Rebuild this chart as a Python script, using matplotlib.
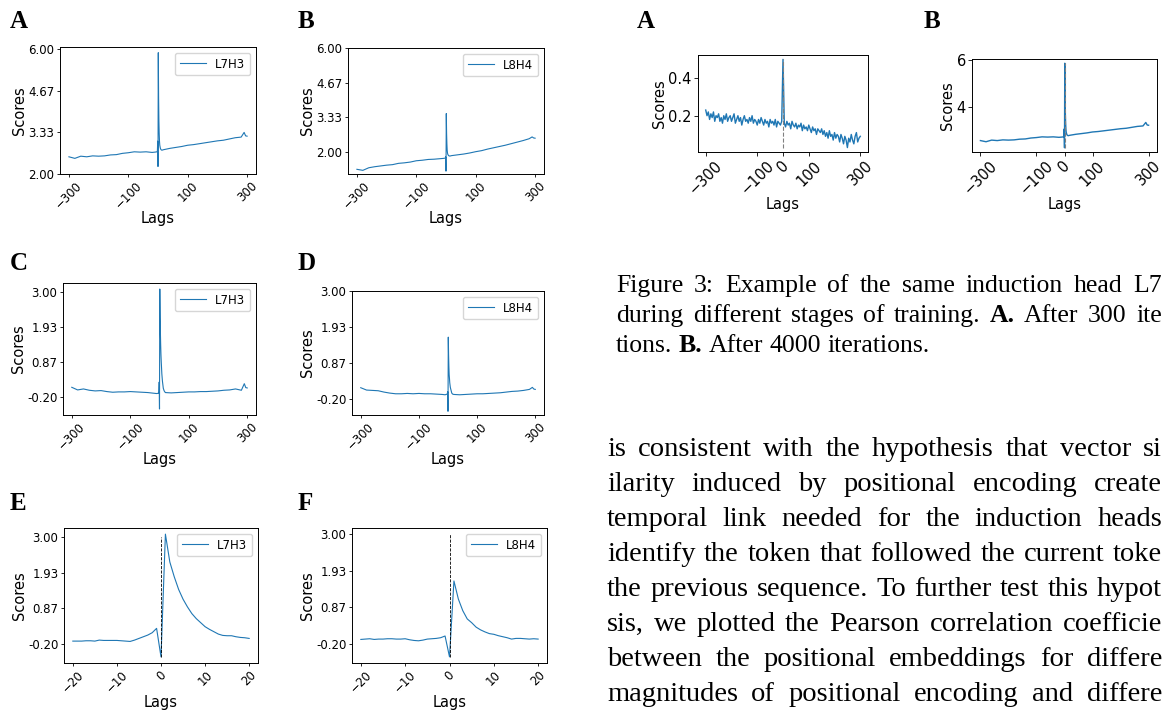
import numpy as np
import matplotlib
matplotlib.use("Agg")
import matplotlib.pyplot as plt
from matplotlib.transforms import IdentityTransform

# ---------------- data ----------------
lags_long = [-300, -280, -260, -240, -220, -200, -180, -160, -140, -120, -100, -80, -60, -40, -20, -10,
             -3, -2, -1, 0, 1, 2, 3, 4, 5, 6, 8, 10, 13, 16, 20,
             40, 60, 80, 100, 120, 140, 160, 180, 200, 220, 240, 260, 280, 290, 295, 300]

l7h3_raw = [2.55, 2.50, 2.57, 2.55, 2.58, 2.57, 2.58, 2.61, 2.62, 2.66, 2.68, 2.71, 2.70, 2.71, 2.69, 2.70,
            2.71, 2.74, 3.05, 2.24, 5.88, 4.45, 3.70, 3.30, 3.05, 2.92, 2.82, 2.78, 2.76, 2.77, 2.78,
            2.82, 2.85, 2.88, 2.92, 2.94, 2.97, 3.00, 3.03, 3.06, 3.08, 3.12, 3.16, 3.18, 3.33, 3.22, 3.21]

l8h4_raw = [1.32, 1.28, 1.38, 1.42, 1.45, 1.48, 1.50, 1.55, 1.57, 1.60, 1.65, 1.67, 1.70, 1.71, 1.73, 1.74,
            1.75, 1.76, 1.80, 1.25, 3.47, 2.70, 2.30, 2.05, 1.95, 1.90, 1.86, 1.84, 1.83, 1.84, 1.85,
            1.88, 1.91, 1.95, 2.00, 2.04, 2.10, 2.15, 2.20, 2.25, 2.31, 2.37, 2.43, 2.50, 2.57, 2.53, 2.52]

l7h3_norm = [0.11, 0.03, 0.06, 0.02, 0.00, 0.01, -0.02, -0.04, -0.03, -0.03, -0.02, -0.03, -0.04, -0.05, -0.07, -0.08,
             -0.07, -0.02, 0.27, -0.55, 3.10, 2.25, 1.80, 1.40, 1.10, 0.88, 0.52, 0.30, 0.08, 0.00, -0.05,
             -0.06, -0.05, -0.04, -0.03, -0.03, -0.02, -0.02, -0.01, 0.00, 0.02, 0.03, 0.06, 0.02, 0.22, 0.10, 0.09]

l8h4_norm = [0.13, 0.06, 0.05, 0.04, 0.00, -0.03, -0.05, -0.05, -0.04, -0.05, -0.04, -0.05, -0.05, -0.06, -0.07, -0.08,
             -0.06, -0.04, 0.01, -0.57, 1.63, 1.10, 0.76, 0.52, 0.41, 0.28, 0.14, 0.07, -0.03, -0.06, -0.07,
             -0.08, -0.07, -0.06, -0.05, -0.05, -0.04, -0.03, -0.02, 0.00, 0.02, 0.03, 0.05, 0.08, 0.14, 0.09, 0.08]

lags_short = list(range(-20, 21))
l7h3_short = [-0.11, -0.11, -0.11, -0.10, -0.10, -0.11, -0.08, -0.09, -0.09, -0.09, -0.09, -0.10, -0.11, -0.12,
              -0.08, -0.03, 0.02, 0.07, 0.14, 0.27, -0.58,
              3.08, 2.25, 1.81, 1.43, 1.14, 0.91, 0.71, 0.56, 0.44, 0.32, 0.24, 0.17, 0.10, 0.06, 0.05,
              0.05, 0.02, 0.00, -0.01, -0.03]
l8h4_short = [-0.08, -0.07, -0.06, -0.08, -0.07, -0.07, -0.06, -0.06, -0.07, -0.07, -0.06, -0.09, -0.11, -0.12,
              -0.10, -0.07, -0.06, -0.05, -0.03, 0.02, -0.59,
              1.63, 1.10, 0.76, 0.52, 0.41, 0.28, 0.20, 0.14, 0.09, 0.07, 0.03, 0.00, -0.03, -0.07, -0.05,
              -0.05, -0.06, -0.07, -0.06, -0.07]

# L7H3 after 300 iterations, lags -300..300 every 5
lags_early = list(range(-300, 301, 5))
l7h3_early = [0.23, 0.20, 0.22, 0.18, 0.21, 0.19, 0.22, 0.17, 0.20, 0.19,
              0.21, 0.17, 0.19, 0.16, 0.20, 0.18, 0.21, 0.17, 0.19, 0.20,
              0.17, 0.19, 0.21, 0.16, 0.18, 0.20, 0.17, 0.19, 0.15, 0.18,
              0.20, 0.17, 0.18, 0.16, 0.19, 0.17, 0.20, 0.16, 0.18, 0.17,
              0.15, 0.18, 0.16, 0.19, 0.17, 0.15, 0.18, 0.16, 0.17, 0.14,
              0.18, 0.16, 0.17, 0.15, 0.18, 0.14, 0.17, 0.16, 0.15, 0.17,
              0.50,
              0.16, 0.14, 0.17, 0.15, 0.16, 0.13, 0.17, 0.15, 0.14, 0.16,
              0.13, 0.15, 0.14, 0.16, 0.12, 0.15, 0.13, 0.14, 0.12, 0.15,
              0.13, 0.11, 0.14, 0.12, 0.13, 0.10, 0.13, 0.12, 0.11, 0.13,
              0.10, 0.12, 0.09, 0.11, 0.08, 0.12, 0.09, 0.10, 0.07, 0.11,
              0.08, 0.10, 0.09, 0.06, 0.10, 0.08, 0.05, 0.09, 0.07, 0.03,
              0.08, 0.06, 0.10, 0.07, 0.05, 0.09, 0.11, 0.06, 0.08, 0.09]

raw_yticks = [2.0, 3.333, 4.667, 6.0]
raw_ylabels = ["2.00", "3.33", "4.67", "6.00"]
norm_yticks = [-0.2, 0.8667, 1.9333, 3.0]
norm_ylabels = ["-0.20", "0.87", "1.93", "3.00"]
long_xticks = [-300, -100, 100, 300]
short_xticks = [-20, -10, 0, 10, 20]
fig3_xticks = [-300, -100, 0, 100, 300]

# ---------------- figure ----------------
W, H = 1164, 710
fig = plt.figure(figsize=(W / 100, H / 100), dpi=100)
blue = "#1f77b4"
serif = "Liberation Serif"


def add_ax(l, t, r, b):
    return fig.add_axes([l / W, 1 - b / H, (r - l) / W, (b - t) / H])


def small_panel(box, x, y, label, xticks, yticks, ylabels, vline=None):
    ax = add_ax(*box)
    ax.plot(x, y, color=blue, lw=0.8, label=label)
    if vline is not None:
        ax.vlines(0, min(y), vline, colors="k", linestyles="--", lw=0.6)
    ax.set_xticks(xticks)
    ax.set_yticks(yticks)
    ax.set_yticklabels(ylabels)
    ax.tick_params(labelsize=8.5, length=2.5, width=0.6, pad=1.5)
    for lbl in ax.get_xticklabels():
        lbl.set_rotation(45)
    ax.set_xlabel("Lags", fontsize=10.5, labelpad=0)
    ax.set_ylabel("Scores", fontsize=10.5, labelpad=1)
    for s in ax.spines.values():
        s.set_linewidth(0.7)
    ax.legend(loc="upper right", fontsize=8.5, handlelength=2.2, borderpad=0.4)
    return ax


small_panel((60, 47, 256, 174), lags_long, l7h3_raw, "L7H3", long_xticks, raw_yticks, raw_ylabels)
small_panel((348, 48, 544, 174), lags_long, l8h4_raw, "L8H4", long_xticks, raw_yticks, raw_ylabels)
small_panel((63, 283, 256, 415), lags_long, l7h3_norm, "L7H3", long_xticks, norm_yticks, norm_ylabels)
small_panel((352, 291, 544, 415), lags_long, l8h4_norm, "L8H4", long_xticks, norm_yticks, norm_ylabels)
small_panel((64, 528, 258, 663), lags_short, l7h3_short, "L7H3", short_xticks, norm_yticks, norm_ylabels, vline=3.0)
small_panel((352, 528, 547, 663), lags_short, l8h4_short, "L8H4", short_xticks, norm_yticks, norm_ylabels, vline=3.0)


def fig3_panel(box, x, y, yticks):
    ax = add_ax(*box)
    ax.plot(x, y, color=blue, lw=1.0)
    ax.vlines(0, min(y), max(y), colors="gray", linestyles="--", lw=0.8)
    ax.set_xticks(fig3_xticks)
    ax.set_yticks(yticks)
    ax.tick_params(labelsize=10.5, length=3, width=0.6, pad=1.5)
    for lbl in ax.get_xticklabels():
        lbl.set_rotation(45)
    ax.set_xlabel("Lags", fontsize=10.5, labelpad=0)
    ax.set_ylabel("Scores", fontsize=10.5, labelpad=1)
    for s in ax.spines.values():
        s.set_linewidth(0.7)
    return ax


fig3_panel((698, 55, 868, 152), lags_early, l7h3_early, [0.2, 0.4])
fig3_panel((972, 59, 1157, 152), lags_long, l7h3_raw, [4, 6])

# panel letters
letters = [("A", 10, 28), ("B", 298, 28), ("C", 10, 270), ("D", 298, 270),
           ("E", 10, 510), ("F", 298, 510), ("A", 637, 28), ("B", 924, 28)]
for s, px, py in letters:
    fig.text(px / W, 1 - py / H, s, fontsize=18, fontweight="bold", family=serif, va="baseline")

# ---------------- paper text ----------------
renderer = fig.canvas.get_renderer()


def put_line(y_px, words, x0, x1, size, justify=True):
    texts, widths = [], []
    for w in words:
        bold = w.startswith("*")
        t = fig.text(0, H - y_px, w.strip("*"), fontsize=size, family=serif,
                     fontweight="bold" if bold else "normal", va="baseline",
                     transform=IdentityTransform())
        texts.append(t)
        widths.append(t.get_window_extent(renderer).width)
    if justify and len(words) > 1:
        gap = (x1 - x0 - sum(widths)) / (len(words) - 1)
    else:
        gap = 0.25 * size * 100 / 72
    x = x0
    for t, w in zip(texts, widths):
        t.set_x(x)
        x += w + gap


cap_size = 18.5
caption = [("Figure 3: Example of the same induction head L7", True),
           ("during different stages of training. *A.* After 300 ite", True),
           ("tions. *B.* After 4000 iterations.", False)]
for i, (line, just) in enumerate(caption):
    put_line(292 + 30 * i, line.split(), 616, 1162, cap_size, just)

body_size = 20.5
body = ["is consistent with the hypothesis that vector si",
        "ilarity induced by positional encoding create",
        "temporal link needed for the induction heads",
        "identify the token that followed the current toke",
        "the previous sequence. To further test this hypot",
        "sis, we plotted the Pearson correlation coefficie",
        "between the positional embeddings for differe",
        "magnitudes of positional encoding and differe"]
for i, line in enumerate(body):
    put_line(456 + 35 * i, line.split(), 607, 1162, body_size, True)

fig.savefig("out.png", dpi=100)
